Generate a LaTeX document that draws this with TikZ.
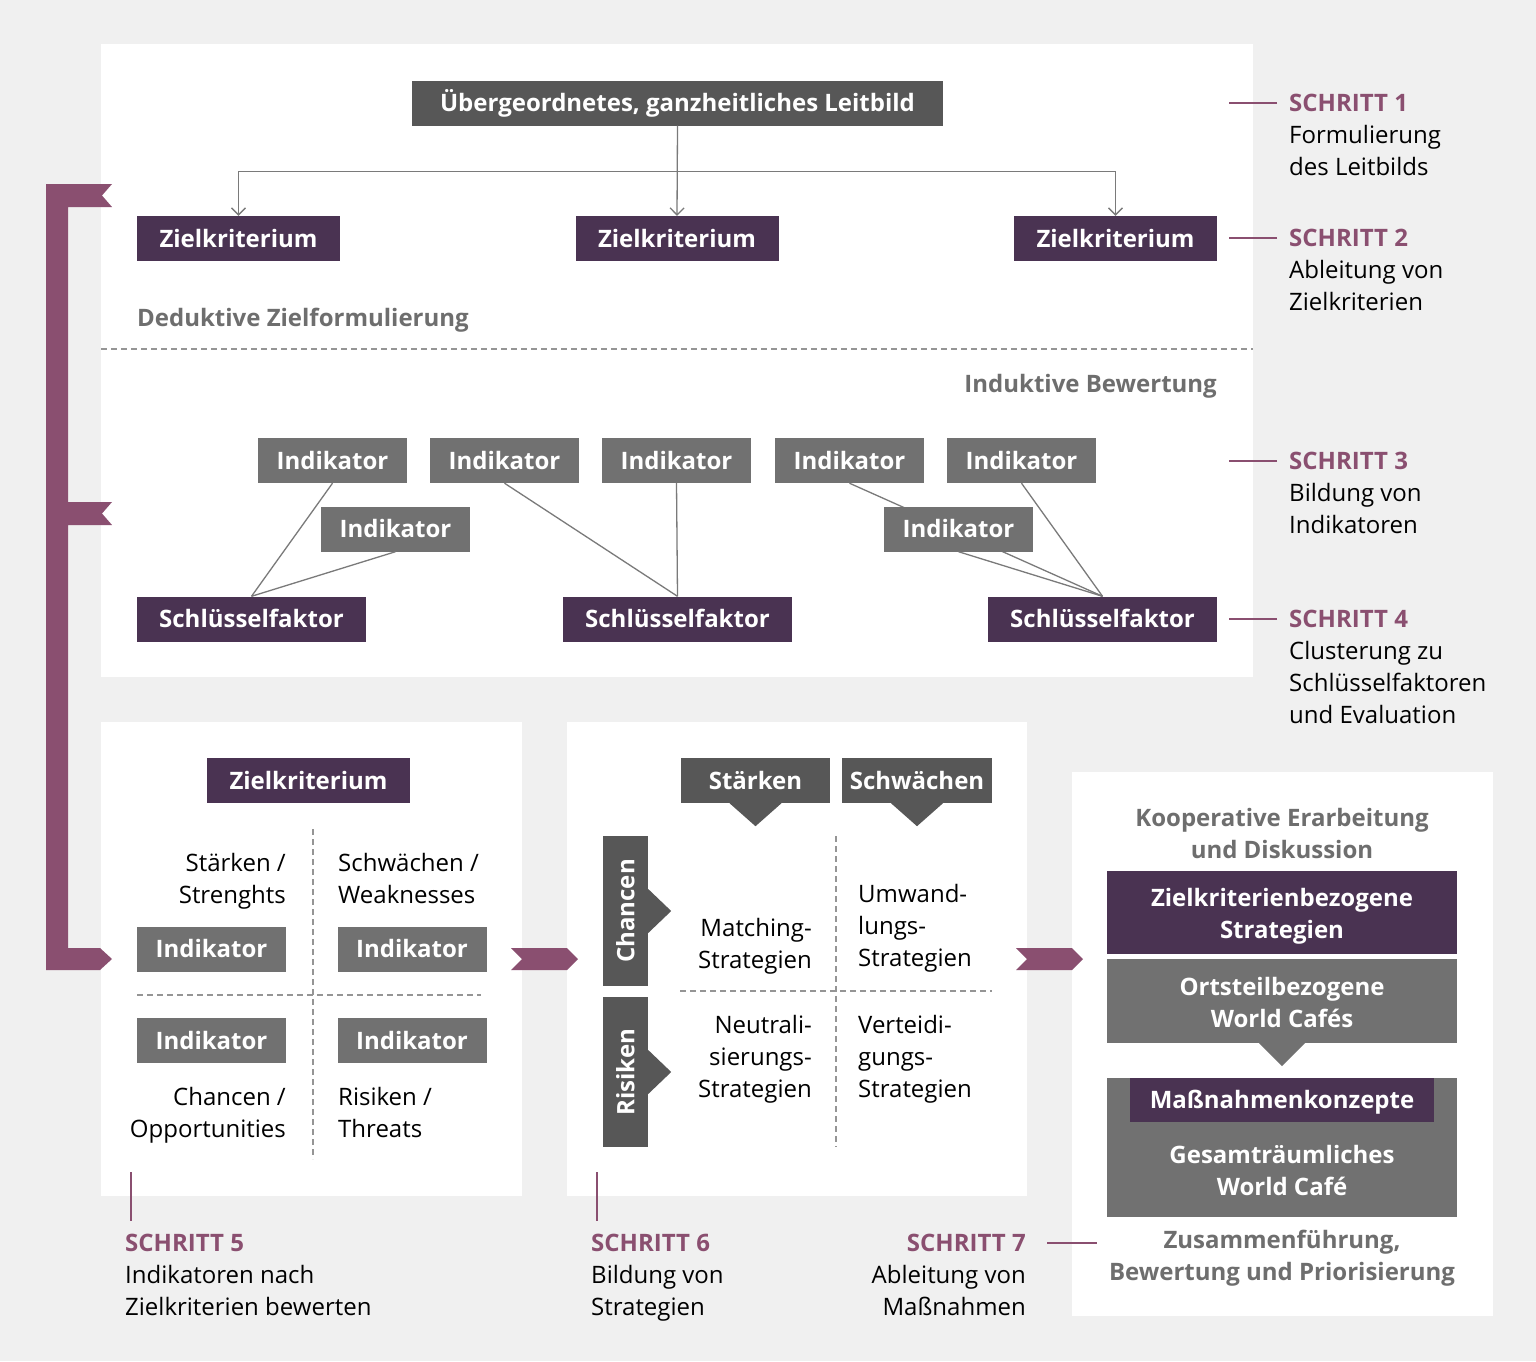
\documentclass[tikz,border=0pt]{standalone}
\usepackage{fontspec}
\setmainfont{Open Sans}
\usetikzlibrary{arrows.meta}
\definecolor{backgrey}{HTML}{F0F0F0}
\definecolor{zielpurple}{HTML}{4A3352}
\definecolor{steppurple}{HTML}{8A4F70}
\definecolor{darkbox}{HTML}{575757}
\definecolor{indgrey}{HTML}{717171}
\definecolor{headgrey}{HTML}{6E6E6E}
\definecolor{linegrey}{HTML}{7A7A7A}
\tikzset{
  box/.style={inner sep=0pt, minimum height=45pt, text=white, align=center,
    font=\bfseries\fontsize{24}{32}\selectfont},
  onebox/.style={box, text height=17.5pt, text depth=0pt},
  twobox/.style={box, text height=52pt, text depth=0pt},
  ziel/.style={onebox, fill=zielpurple, minimum width=203pt},
  indik/.style={onebox, fill=indgrey, minimum width=149pt},
  schluessel/.style={onebox, fill=zielpurple, minimum width=229pt},
  link/.style={draw=linegrey, line width=1.3pt},
  linkarrow/.style={link, -{Straight Barb[length=7pt,width=14pt,line width=1.3pt]}},
  steptick/.style={draw=steppurple, line width=2.8pt},
  divider/.style={draw=linegrey!80, line width=1.3pt, dash pattern=on 6pt off 4pt},
  stephead/.style={inner sep=0pt, text=steppurple, font=\bfseries\fontsize{24}{32}\selectfont},
  stepbody/.style={inner sep=0pt, font=\fontsize{24}{32}\selectfont},
  greyhead/.style={inner sep=0pt, text=headgrey, align=center, font=\bfseries\fontsize{24}{32}\selectfont},
  cell/.style={inner sep=0pt, font=\fontsize{24}{32}\selectfont},
}
\begin{document}
\begin{tikzpicture}[x=1pt, y=-1pt]
\useasboundingbox (0,0) rectangle (1536,1361);
\fill[backgrey] (0,0) rectangle (1536,1361);
% panels
\fill[white] (101,44) rectangle (1253,677);
\fill[white] (101,722) rectangle (522,1196);
\fill[white] (567,722) rectangle (1027,1196);
\fill[white] (1072,772) rectangle (1493,1316);
% bracket and chevrons
\fill[steppurple] (46,184) -- (112,184) -- (102,195.5) -- (112,207) -- (68,207) -- (68,502) -- (112,502) -- (102,513.5) -- (112,525) -- (68,525) -- (68,948) -- (100,948) -- (112,959) -- (100,970) -- (46,970) -- cycle;
\fill[steppurple] (511,948) -- (567,948) -- (578,959) -- (567,970) -- (511,970) -- (522,959) -- cycle;
\fill[steppurple] (1016,948) -- (1072,948) -- (1083,959) -- (1072,970) -- (1016,970) -- (1027,959) -- cycle;

% deduktive Zielformulierung
\node[onebox, fill=darkbox, minimum width=531pt] (leitbild) at (677.5,103) {Übergeordnetes, ganzheitliches Leitbild};
\node[ziel] (ziel1) at (238.5,238.5) {Zielkriterium};
\node[ziel] (ziel2) at (677,238.5) {Zielkriterium};
\node[ziel] (ziel3) at (1115.5,238.5) {Zielkriterium};
\draw[linkarrow] (leitbild.south) -- (ziel2.north);
\draw[linkarrow] (leitbild.south) -- ++(0,46) -| (ziel1.north);
\draw[linkarrow] (leitbild.south) -- ++(0,46) -| (ziel3.north);
\node[greyhead, anchor=base west] (deduktiv) at (137,326.5) {Deduktive Zielformulierung};
\draw[divider] (101,349) -- (1253,349);

% induktive Bewertung
\node[greyhead, anchor=base east] (induktiv) at (1217,392.5) {Induktive Bewertung};
\node[indik] (ind1) at (332.5,460.5) {Indikator};
\node[indik] (ind2) at (504.5,460.5) {Indikator};
\node[indik] (ind3) at (676.5,460.5) {Indikator};
\node[indik] (ind4) at (849.5,460.5) {Indikator};
\node[indik] (ind5) at (1021.5,460.5) {Indikator};
\node[indik] (ind6) at (395.5,529) {Indikator};
\node[schluessel] (key1) at (251.5,619) {Schlüsselfaktor};
\node[schluessel] (key2) at (677.5,619) {Schlüsselfaktor};
\node[schluessel] (key3) at (1102.5,619) {Schlüsselfaktor};
\draw[link] (ind1.south) -- (key1.north);
\draw[link] (ind6.south) -- (key1.north);
\draw[link] (ind2.south) -- (key2.north);
\draw[link] (ind3.south) -- (key2.north);
\draw[link] (ind4.south) -- (key3.north);
\draw[link] (ind5.south) -- (key3.north);
\node[indik] (ind7) at (958.5,529) {Indikator};
\draw[link] (ind7.south) -- (key3.north);

% Schritte 1-4 (base = last line)
\foreach \n/\y/\b/\txt in {1/111.5/175.5/{Formulierung\\des Leitbilds}, 2/246.5/310.5/{Ableitung von\\Zielkriterien}, 3/469.5/533.5/{Bildung von\\Indikatoren}, 4/627.5/723.5/{Clusterung zu\\Schlüsselfaktoren\\und Evaluation}}{
  \node[stephead, anchor=base west] (head\n) at (1289,\y) {SCHRITT \n};
  \node[stepbody, align=left, anchor=base west] (body\n) at (1289,\b) {\txt};
  \draw[steptick] ([xshift=-12pt]head\n.west) -- ++(-48,0);
}

% Schritt 5
\node[ziel] (ziel4) at (308.5,780.5) {Zielkriterium};
\draw[divider] (313,829) -- (313,1159);
\draw[divider] (137,995) -- (481,995);
\node[cell, align=right, anchor=base east] (strengths) at (286,903.5) {Stärken /\\Strenghts};
\node[cell, align=left, anchor=base west] (weaknesses) at (338,903.5) {Schwächen /\\Weaknesses};
\node[indik] (ind8) at (211.5,949) {Indikator};
\node[indik] (ind9) at (412,949) {Indikator};
\node[indik] (ind10) at (211.5,1040.5) {Indikator};
\node[indik] (ind11) at (412,1040.5) {Indikator};
\node[cell, align=right, anchor=base east] (opportunities) at (286,1137.5) {Chancen /\\Opportunities};
\node[cell, align=left, anchor=base west] (threats) at (338,1137.5) {Risiken /\\Threats};
\draw[steptick] (131,1172) -- (131,1221);
\node[stephead, anchor=base west] (head5) at (125,1251.5) {SCHRITT 5};
\node[stepbody, align=left, anchor=base west] (body5) at (125,1315.5) {Indikatoren nach\\Zielkriterien bewerten};

% Schritt 6
\node[onebox, fill=darkbox, minimum width=149pt] (staerken) at (755.5,780.5) {Stärken};
\node[onebox, fill=darkbox, minimum width=150pt] (schwaechen) at (917,780.5) {Schwächen};
\fill[darkbox] ([xshift=-26pt]staerken.south) -- ++(26,23) -- ([xshift=26pt]staerken.south) -- cycle;
\fill[darkbox] ([xshift=-26pt]schwaechen.south) -- ++(26,23) -- ([xshift=26pt]schwaechen.south) -- cycle;
\node[onebox, fill=darkbox, minimum width=150pt, rotate=90] (chancen) at (625.5,911) {Chancen};
\node[onebox, fill=darkbox, minimum width=150pt, rotate=90] (risiken) at (625.5,1072) {Risiken};
\fill[darkbox] ([yshift=22pt]chancen.south) -- ++(23,22) -- ([yshift=-22pt]chancen.south) -- cycle;
\fill[darkbox] ([yshift=22pt]risiken.south) -- ++(23,22) -- ([yshift=-22pt]risiken.south) -- cycle;
\draw[divider] (836,836) -- (836,1147);
\draw[divider] (680,991) -- (992,991);
\node[cell, align=right, anchor=base east] (matching) at (812,968.5) {Matching-\\Strategien};
\node[cell, align=left, anchor=base west] (umwandlung) at (858,966.5) {Umwand-\\lungs-\\Strategien};
\node[cell, align=right, anchor=base east] (neutral) at (812,1097.5) {Neutrali-\\sierungs-\\Strategien};
\node[cell, align=left, anchor=base west] (verteidigung) at (858,1097.5) {Verteidi-\\gungs-\\Strategien};
\draw[steptick] (597,1172) -- (597,1221);
\node[stephead, anchor=base west] (head6) at (591,1251.5) {SCHRITT 6};
\node[stepbody, align=left, anchor=base west] (body6) at (591,1315.5) {Bildung von\\Strategien};

% Schritt 7
\node[greyhead, anchor=base] (koop) at (1282,858.5) {Kooperative Erarbeitung\\und Diskussion};
\node[twobox, fill=zielpurple, minimum width=350pt, minimum height=83pt] (zielstrat) at (1282,912.5) {Zielkriterienbezogene\\Strategien};
\node[twobox, fill=indgrey, minimum width=350pt, minimum height=84pt] (ortsteil) at (1282,1001) {Ortsteilbezogene\\World Cafés};
\fill[indgrey] ([xshift=-23pt]ortsteil.south) -- ++(23,23) -- ([xshift=23pt]ortsteil.south) -- cycle;
\node[fill=indgrey, inner sep=0pt, minimum width=350pt, minimum height=139pt] (cafe) at (1282,1147.5) {};
\node[onebox, fill=zielpurple, minimum width=304pt, minimum height=44pt, anchor=north] (konzepte) at (cafe.north) {Maßnahmenkonzepte};
\node[twobox] (gesamt) at (1282,1169.5) {Gesamträumliches\\World Café};
\node[greyhead, anchor=base] (zusammen) at (1282,1280.5) {Zusammenführung,\\Bewertung und Priorisierung};
\node[stephead, anchor=base east] (head7) at (1026,1251.5) {SCHRITT 7};
\node[stepbody, align=right, anchor=base east] (body7) at (1026,1315.5) {Ableitung von\\Maßnahmen};
\draw[steptick] ([xshift=21pt]head7.east) -- ++(50,0);
\end{tikzpicture}
\end{document}
